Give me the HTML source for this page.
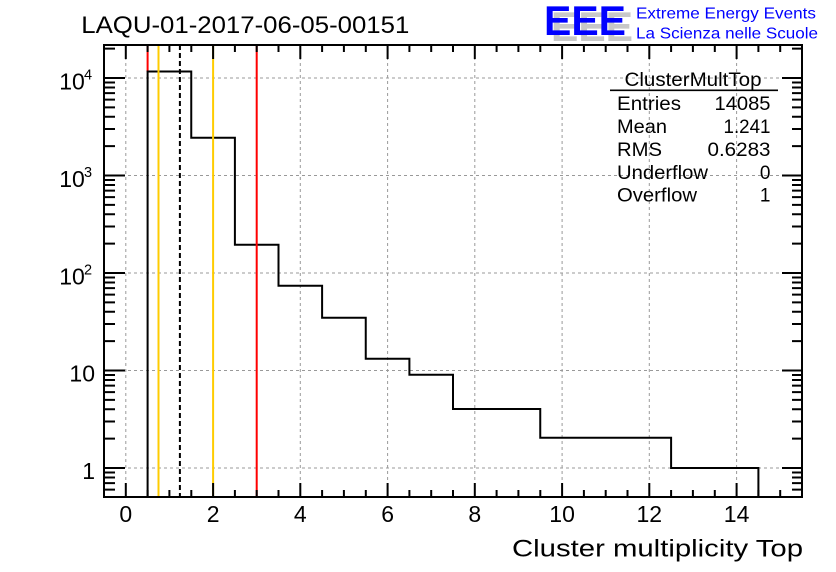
<!DOCTYPE html>
<html><head><meta charset="utf-8"><style>
html,body{margin:0;padding:0;background:#fff;}
svg{display:block;font-family:"Liberation Sans",Arial,sans-serif;}
</style></head><body>
<svg width="836" height="572" viewBox="0 0 836 572" xmlns="http://www.w3.org/2000/svg">
<rect width="836" height="572" fill="#fff"/>

<!-- grid -->
<g stroke="#999" stroke-width="1" stroke-dasharray="3,3" fill="none">
<path d="M125.8 45V497M213.1 45V497M300.3 45V497M387.6 45V497M474.8 45V497M562.1 45V497M649.3 45V497M736.6 45V497"/>
<path d="M104 468H802M104 370.5H802M104 273H802M104 175.5H802M104 78H802"/>
</g>

<!-- red line at 0.5 (only visible above histogram) -->
<path d="M147.6 45V72" stroke="#f00" stroke-width="2"/>

<!-- histogram -->
<path d="M147.6 497V71.5H191.25V137.7H234.9V244.7H278.5V285.7H322.1V317.7H365.75V358.7H409.4V374.7H453V409H540.25V437.7H671.1V468H758.4V497" fill="none" stroke="#000" stroke-width="2"/>

<!-- marker lines -->
<path d="M158.5 45V497M213.1 45V497" stroke="#fc0" stroke-width="2"/>
<path d="M256.7 45V497" stroke="#f00" stroke-width="2"/>
<path d="M179.9 45V497" stroke="#000" stroke-width="2" stroke-dasharray="5,3"/>

<!-- ticks -->
<g stroke="#000" stroke-width="2" fill="none">
<path d="M147.6 497v-7M169.4 497v-7M191.3 497v-7M234.9 497v-7M256.7 497v-7M278.5 497v-7M322.1 497v-7M343.9 497v-7M365.8 497v-7M409.4 497v-7M431.2 497v-7M453 497v-7M496.6 497v-7M518.4 497v-7M540.3 497v-7M583.9 497v-7M605.7 497v-7M627.5 497v-7M671.1 497v-7M692.9 497v-7M714.8 497v-7M758.4 497v-7M780.2 497v-7"/>
<path d="M125.8 497v-14M213.1 497v-14M300.3 497v-14M387.6 497v-14M474.8 497v-14M562.1 497v-14M649.3 497v-14M736.6 497v-14"/>
<path d="M147.6 45v7M169.4 45v7M191.3 45v7M234.9 45v7M256.7 45v7M278.5 45v7M322.1 45v7M343.9 45v7M365.8 45v7M409.4 45v7M431.2 45v7M453 45v7M496.6 45v7M518.4 45v7M540.3 45v7M583.9 45v7M605.7 45v7M627.5 45v7M671.1 45v7M692.9 45v7M714.8 45v7M758.4 45v7M780.2 45v7"/>
<path d="M125.8 45v14M213.1 45v14M300.3 45v14M387.6 45v14M474.8 45v14M562.1 45v14M649.3 45v14M736.6 45v14"/>
<path d="M104 468h21M104 370.5h21M104 273h21M104 175.5h21M104 78h21"/>
<path d="M104 489.6h11M104 483.1h11M104 477.45h11M104 472.46h11M104 438.65h11M104 421.48h11M104 409.3h11M104 399.85h11M104 392.13h11M104 385.6h11M104 379.95h11M104 374.96h11M104 341.15h11M104 323.98h11M104 311.8h11M104 302.35h11M104 294.63h11M104 288.1h11M104 282.45h11M104 277.46h11M104 243.65h11M104 226.48h11M104 214.3h11M104 204.85h11M104 197.13h11M104 190.6h11M104 184.95h11M104 179.96h11M104 146.15h11M104 128.98h11M104 116.8h11M104 107.35h11M104 99.63h11M104 93.1h11M104 87.45h11M104 82.46h11M104 48.65h11"/>
<path d="M802 468h-20M802 370.5h-20M802 273h-20M802 175.5h-20M802 78h-20"/>
<path d="M802 489.6h-10M802 483.1h-10M802 477.45h-10M802 472.46h-10M802 438.65h-10M802 421.48h-10M802 409.3h-10M802 399.85h-10M802 392.13h-10M802 385.6h-10M802 379.95h-10M802 374.96h-10M802 341.15h-10M802 323.98h-10M802 311.8h-10M802 302.35h-10M802 294.63h-10M802 288.1h-10M802 282.45h-10M802 277.46h-10M802 243.65h-10M802 226.48h-10M802 214.3h-10M802 204.85h-10M802 197.13h-10M802 190.6h-10M802 184.95h-10M802 179.96h-10M802 146.15h-10M802 128.98h-10M802 116.8h-10M802 107.35h-10M802 99.63h-10M802 93.1h-10M802 87.45h-10M802 82.46h-10M802 48.65h-10"/>
</g>

<!-- frame -->
<rect x="104" y="45" width="698" height="452" fill="none" stroke="#000" stroke-width="2"/>

<!-- x tick labels -->
<g font-size="23" text-anchor="middle" fill="#000">
<text x="125.8" y="522">0</text>
<text x="213.1" y="522">2</text>
<text x="300.3" y="522">4</text>
<text x="387.6" y="522">6</text>
<text x="474.8" y="522">8</text>
<text x="562.1" y="522">10</text>
<text x="649.3" y="522">12</text>
<text x="736.6" y="522">14</text>
</g>

<!-- y tick labels -->
<g font-size="23" fill="#000">
<text x="95" y="479" text-anchor="end">1</text>
<text x="95" y="381.5" text-anchor="end">10</text>
<text x="59.2" y="284.3">10</text><text x="84" y="274.3" font-size="14.5">2</text>
<text x="59.2" y="186.8">10</text><text x="84" y="176.8" font-size="14.5">3</text>
<text x="59.2" y="89.3">10</text><text x="84" y="79.3" font-size="14.5">4</text>
</g>

<!-- title -->
<text x="81.3" y="33" font-size="24.5" textLength="328" lengthAdjust="spacingAndGlyphs" fill="#000">LAQU-01-2017-06-05-00151</text>

<!-- x axis title -->
<text x="512" y="556.7" font-size="24.5" textLength="291" lengthAdjust="spacingAndGlyphs" fill="#000">Cluster multiplicity Top</text>

<!-- stats box -->
<g font-size="19" fill="#000">
<text x="624.5" y="86" textLength="137" lengthAdjust="spacingAndGlyphs">ClusterMultTop</text>
<path d="M610 90.3H778" stroke="#000" stroke-width="1.6"/>
<text x="617" y="110" textLength="64" lengthAdjust="spacingAndGlyphs">Entries</text>
<text x="770.5" y="110" text-anchor="end" textLength="56" lengthAdjust="spacingAndGlyphs">14085</text>
<text x="617" y="132.9" textLength="50" lengthAdjust="spacingAndGlyphs">Mean</text>
<text x="770.5" y="132.9" text-anchor="end" textLength="47" lengthAdjust="spacingAndGlyphs">1.241</text>
<text x="617" y="155.8" textLength="45" lengthAdjust="spacingAndGlyphs">RMS</text>
<text x="770.5" y="155.8" text-anchor="end" textLength="63" lengthAdjust="spacingAndGlyphs">0.6283</text>
<text x="617" y="178.9" textLength="91" lengthAdjust="spacingAndGlyphs">Underflow</text>
<text x="770.5" y="178.9" text-anchor="end">0</text>
<text x="617" y="201.6" textLength="80" lengthAdjust="spacingAndGlyphs">Overflow</text>
<text x="770.5" y="201.6" text-anchor="end">1</text>
</g>

<!-- EEE logo -->
<text x="551" y="41" font-size="42" font-weight="bold" fill="#c8c8c8" textLength="82" lengthAdjust="spacingAndGlyphs">EEE</text>
<text x="544" y="35" font-size="42" font-weight="bold" fill="#0000ff" textLength="82" lengthAdjust="spacingAndGlyphs">EEE</text>
<text x="636" y="18.5" font-size="16" fill="#0000ff" textLength="180" lengthAdjust="spacingAndGlyphs">Extreme Energy Events</text>
<text x="636" y="38.5" font-size="16" fill="#0000ff" textLength="182" lengthAdjust="spacingAndGlyphs">La Scienza nelle Scuole</text>
</svg>
</body></html>
